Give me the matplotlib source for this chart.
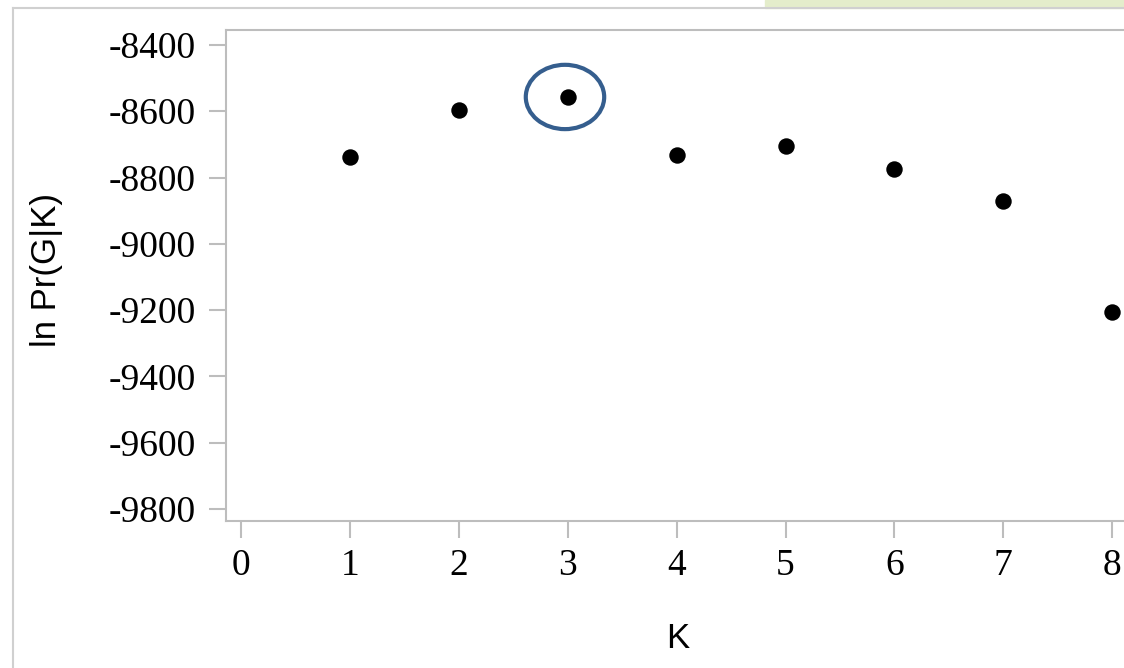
import matplotlib
matplotlib.use("Agg")
import matplotlib.pyplot as plt
import matplotlib.patches as patches
from matplotlib.lines import Line2D

plt.rcParams["axes.unicode_minus"] = False

# values
k_values = [1, 2, 3, 4, 5, 6, 7, 8]
ln_pr = [-8738, -8596, -8557, -8732, -8705, -8774, -8871, -9205]
best_k = 3
x_ticks = [0, 1, 2, 3, 4, 5, 6, 7, 8]
y_ticks = [-8400, -8600, -8800, -9000, -9200, -9400, -9600, -9800]

W, H = 1124, 668
fig = plt.figure(figsize=(W / 100, H / 100), dpi=100)

# faint green strip at top right and the light gray outer frame
fig.patches.append(patches.Rectangle((765 / W, 1 - 8 / H), (W - 765) / W, 8 / H,
                                     transform=fig.transFigure, color="#e4edcb", zorder=0))
frame_col = "#d0d0d0"
fig.lines.append(Line2D([13 / W, 13 / W], [0, 1 - 8 / H], transform=fig.transFigure,
                        color=frame_col, lw=1.5))
fig.lines.append(Line2D([13 / W, 1], [1 - 8 / H, 1 - 8 / H], transform=fig.transFigure,
                        color=frame_col, lw=1.5))

ax = fig.add_axes([226 / W, (H - 521) / H, (W - 226) / W, (521 - 30) / H])

ax.scatter(k_values, ln_pr, s=140, color="black", zorder=3, linewidths=0)

# circle the best K
i = k_values.index(best_k)
ax.add_patch(patches.Ellipse((best_k - 0.025, ln_pr[i]), 0.72, 194, fill=False,
                             edgecolor="#355e8e", lw=3, zorder=4))

ax.set_xlim(-0.1377, 8.108)
ax.set_ylim(-9836, -8355)
ax.set_xticks(x_ticks)
ax.set_yticks(y_ticks)

spine_col = "#bdbdbd"
for side in ["left", "bottom", "top"]:
    ax.spines[side].set_color(spine_col)
    ax.spines[side].set_linewidth(1.5)
ax.spines["right"].set_visible(False)

ax.tick_params(axis="both", colors=spine_col, length=12, width=1.5, labelcolor="black",
               labelsize=27)
ax.tick_params(axis="x", pad=8)
ax.tick_params(axis="y", pad=10)
for lab in ax.get_xticklabels() + ax.get_yticklabels():
    lab.set_family("Liberation Serif")

ax.set_ylabel("ln Pr(G|K)", family="Liberation Sans", fontsize=25)
ax.set_xlabel("K", family="Liberation Sans", fontsize=25)
ax.yaxis.set_label_coords(-0.181, 0.511)
ax.xaxis.set_label_coords(0.503, -0.206)

fig.savefig("out.png", dpi=100)
